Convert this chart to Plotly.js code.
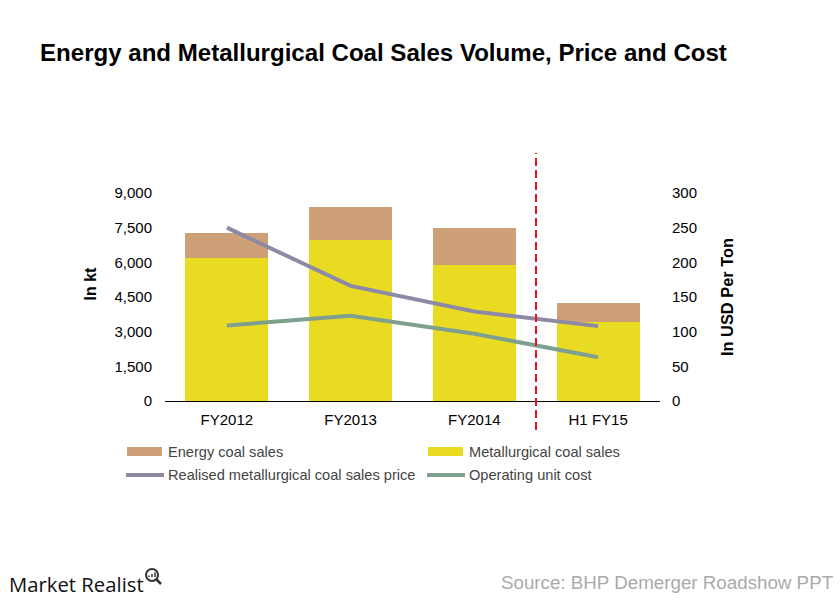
<!DOCTYPE html>
<html><head><meta charset="utf-8">
<script src="https://cdn.plot.ly/plotly-3.0.1.min.js"></script>
<style>html,body{margin:0;padding:0;background:#fff}</style></head>
<body><div id="c" style="width:840px;height:600px"></div>
<script>
const categories=["FY2012","FY2013","FY2014","H1 FY15"];
const metallurgical=[6179,6988,5876,3410];
const energy=[1112,1428,1631,809];
const price=[250,166,129,108];
const unitCost=[109,123,97,63];
const font="Liberation Sans, Arial, sans-serif";
const px=v=>v/840, py=v=>1-v/600;
const traces=[
{type:"bar",name:"Metallurgical coal sales",x:categories,y:metallurgical,marker:{color:"#E9DB21"},width:0.67},
{type:"bar",name:"Energy coal sales",x:categories,y:energy,marker:{color:"#CDA077"},width:0.67},
{type:"scatter",mode:"lines",name:"Realised metallurgical coal sales price",x:categories,y:price,yaxis:"y2",line:{color:"#8E8AA6",width:4}},
{type:"scatter",mode:"lines",name:"Operating unit cost",x:categories,y:unitCost,yaxis:"y2",line:{color:"#7F9F8F",width:4}}
];
const layout={
width:840,height:600,margin:{l:0,r:0,t:0,b:0},paper_bgcolor:"#fff",plot_bgcolor:"#fff",
barmode:"stack",showlegend:false,font:{family:font,size:15,color:"#000"},
title:{text:"<b>Energy and Metallurgical Coal Sales Volume, Price and Cost</b>",x:px(40),xanchor:"left",y:py(53),yanchor:"middle",font:{size:24.07,family:font,color:"#000"}},
xaxis:{domain:[px(165),px(660)],anchor:"y",showline:true,linecolor:"#000",linewidth:1,ticks:"outside",ticklen:5,tickcolor:"rgba(0,0,0,0)",tickfont:{size:15},showgrid:false},
yaxis:{domain:[py(401),py(193)],range:[0,9000],tickvals:[0,1500,3000,4500,6000,7500,9000],tickformat:",",showgrid:false,zeroline:false,ticks:"outside",ticklen:9,tickcolor:"rgba(0,0,0,0)",tickfont:{size:15}},
yaxis2:{domain:[py(401),py(193)],overlaying:"y",side:"right",anchor:"x",range:[0,300],tickvals:[0,50,100,150,200,250,300],showgrid:false,zeroline:false,ticks:"outside",ticklen:8,tickcolor:"rgba(0,0,0,0)",tickfont:{size:15},title:{text:"<b>In USD Per Ton</b>",font:{size:16.4},standoff:25}},
shapes:[
{type:"line",xref:"paper",yref:"paper",x0:px(536),x1:px(536),y0:py(430),y1:py(153),line:{color:"#F0101C",width:2,dash:"8px,4px"}},
{type:"rect",xref:"paper",yref:"paper",x0:px(127),x1:px(162),y0:py(456),y1:py(447),fillcolor:"#CDA077",line:{width:0}},
{type:"rect",xref:"paper",yref:"paper",x0:px(428),x1:px(463),y0:py(456),y1:py(447),fillcolor:"#E9DB21",line:{width:0}},
{type:"line",xref:"paper",yref:"paper",x0:px(126),x1:px(164),y0:py(475),y1:py(475),line:{color:"#8E8AA6",width:4}},
{type:"line",xref:"paper",yref:"paper",x0:px(427),x1:px(465),y0:py(475),y1:py(475),line:{color:"#7F9F8F",width:4}},
{type:"circle",xref:"paper",yref:"paper",x0:px(146),x1:px(158),y0:py(581),y1:py(569),line:{color:"#333",width:2}},
{type:"line",xref:"paper",yref:"paper",x0:px(156),x1:px(161),y0:py(579),y1:py(584),line:{color:"#333",width:2.5}},
{type:"line",xref:"paper",yref:"paper",x0:px(149),x1:px(149),y0:py(577),y1:py(575.5),line:{color:"#333",width:1.5}},
{type:"line",xref:"paper",yref:"paper",x0:px(152),x1:px(152),y0:py(577),y1:py(574),line:{color:"#333",width:1.5}},
{type:"line",xref:"paper",yref:"paper",x0:px(155),x1:px(155),y0:py(577),y1:py(572.5),line:{color:"#333",width:1.5}}
],
annotations:[
{text:"<b>In kt</b>",xref:"paper",yref:"paper",x:px(90),y:py(283.5),xanchor:"center",yanchor:"middle",textangle:-90,showarrow:false,font:{size:16,color:"#000"}},
{text:"Energy coal sales",xref:"paper",yref:"paper",x:px(166),y:py(452),xanchor:"left",yanchor:"middle",showarrow:false,font:{size:14.6,color:"#444"}},
{text:"Metallurgical coal sales",xref:"paper",yref:"paper",x:px(467),y:py(452),xanchor:"left",yanchor:"middle",showarrow:false,font:{size:14.6,color:"#444"}},
{text:"Realised metallurgical coal sales price",xref:"paper",yref:"paper",x:px(166),y:py(475),xanchor:"left",yanchor:"middle",showarrow:false,font:{size:14.6,color:"#444"}},
{text:"Operating unit cost",xref:"paper",yref:"paper",x:px(467),y:py(475),xanchor:"left",yanchor:"middle",showarrow:false,font:{size:14.6,color:"#444"}},
{text:"Source: BHP Demerger Roadshow PPT",xref:"paper",yref:"paper",x:px(836),y:py(582),xanchor:"right",yanchor:"middle",showarrow:false,font:{size:18.75,color:"#aaaaaa"}},
{text:"Market Realist",xref:"paper",yref:"paper",x:px(7),y:py(584),xanchor:"left",yanchor:"middle",showarrow:false,font:{size:20.3,color:"#111",family:"Open Sans, Noto Sans, sans-serif"}}
]};
Plotly.newPlot("c",traces,layout,{displayModeBar:false,staticPlot:true});
</script></body></html>
